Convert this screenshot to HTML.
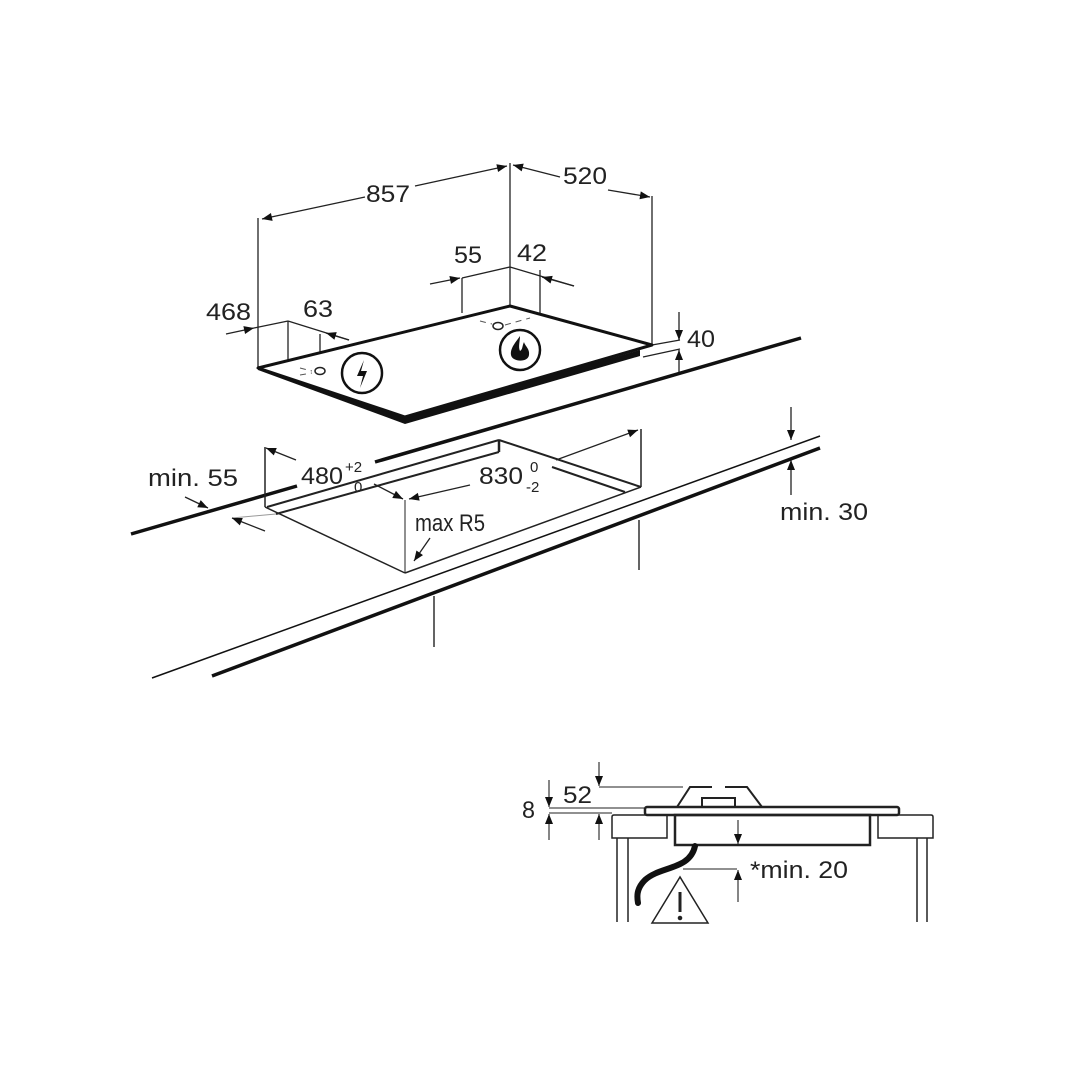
<!DOCTYPE html>
<html><head><meta charset="utf-8"><style>
html,body{margin:0;padding:0;background:#fff;}
svg{display:block;}
text{font-family:"Liberation Sans",Arial,sans-serif;font-size:24px;fill:#222;}
</style></head><body>
<svg width="1080" height="1080" viewBox="0 0 1080 1080" xmlns="http://www.w3.org/2000/svg">
<defs>
<marker id="a" viewBox="0 0 10 10" refX="10" refY="5" markerWidth="14" markerHeight="10" markerUnits="userSpaceOnUse" orient="auto"><path d="M0,1 L10,5 L0,9 z" fill="#111"/></marker>
</defs>
<g stroke="#222" fill="none" stroke-width="1.3">
<line x1="258" y1="218" x2="258" y2="368"/>
<line x1="510" y1="163" x2="510" y2="306"/>
<line x1="652" y1="196" x2="652" y2="345"/>
<line x1="462" y1="278" x2="462" y2="313"/>
<line x1="540" y1="270" x2="540" y2="313"/>
<line x1="288" y1="321" x2="288" y2="360"/>
<line x1="320" y1="334" x2="320" y2="366"/>
<line x1="365" y1="197" x2="262" y2="219" marker-end="url(#a)"/>
<line x1="415" y1="186" x2="507" y2="166" marker-end="url(#a)"/>
<line x1="560" y1="177" x2="513" y2="165" marker-end="url(#a)"/>
<line x1="608" y1="190" x2="650" y2="197" marker-end="url(#a)"/>
<line x1="430" y1="284" x2="460" y2="278" marker-end="url(#a)"/>
<line x1="462" y1="278" x2="510" y2="267"/>
<line x1="510" y1="267" x2="574" y2="286"/>
<line x1="574" y1="286" x2="542" y2="277" marker-end="url(#a)"/>
<line x1="226" y1="334" x2="254" y2="328" marker-end="url(#a)"/>
<line x1="254" y1="328" x2="288" y2="321"/>
<line x1="288" y1="321" x2="349" y2="340"/>
<line x1="349" y1="340" x2="326" y2="333" marker-end="url(#a)"/>
<line x1="652" y1="345" x2="680" y2="340"/>
<line x1="643" y1="357" x2="680" y2="349"/>
<line x1="679" y1="312" x2="679" y2="340" marker-end="url(#a)"/>
<line x1="679" y1="372" x2="679" y2="350" marker-end="url(#a)"/>
</g>
<path d="M258,370 L405,424 L640,356 L640,350 L405,417 L258,366 Z" fill="#111"/>
<path d="M258,368 L510,306 L652,345 L405,417 Z" fill="#fff" stroke="#111" stroke-width="3" stroke-linejoin="round"/>
<g stroke="#555" stroke-width="1" stroke-dasharray="6,5">
<line x1="300" y1="368" x2="312" y2="371"/><line x1="300" y1="375" x2="312" y2="373"/>
<line x1="480" y1="321" x2="492" y2="324"/><line x1="505" y1="325" x2="530" y2="318"/>
</g>
<ellipse cx="320" cy="371" rx="5" ry="3.5" fill="#fff" stroke="#222" stroke-width="1.5"/>
<ellipse cx="498" cy="326" rx="5" ry="3.5" fill="#fff" stroke="#222" stroke-width="1.5"/>
<circle cx="362" cy="373" r="20" fill="#fff" stroke="#111" stroke-width="2.5"/>
<path d="M364,360 L357,376 L363,376 L360,388 L367,371 L361,371 Z" fill="#111"/>
<circle cx="520" cy="350" r="20" fill="#fff" stroke="#111" stroke-width="2.5"/>
<path d="M520,336 C516,342 510,348 511,355 C512,362 528,363 529,355 C530,349 525,346 524,342 C522,346 523,349 520,351 C518,347 520,341 520,336 Z" fill="#111"/>
<g stroke="#111" fill="none">
<line x1="131" y1="534" x2="297" y2="486" stroke-width="3.5"/>
<line x1="375" y1="462" x2="801" y2="338" stroke-width="3.5"/>
<line x1="152" y1="678" x2="820" y2="436" stroke-width="1.5"/>
<line x1="212" y1="676" x2="820" y2="448" stroke-width="3.5"/>
<line x1="434" y1="596" x2="434" y2="647" stroke-width="1.3"/>
<line x1="639" y1="520" x2="639" y2="570" stroke-width="1.3"/>
</g>
<g stroke="#222" fill="none" stroke-width="1.5">
<line x1="265" y1="447" x2="265" y2="507"/>
<line x1="641" y1="429" x2="641" y2="487"/>
<line x1="265" y1="507" x2="405" y2="573"/>
<line x1="405" y1="573" x2="641" y2="487"/>
<line x1="405" y1="500" x2="405" y2="573" stroke-width="1"/>
<line x1="267" y1="507" x2="499" y2="440" stroke-width="2"/>
<line x1="276" y1="514" x2="499" y2="452" stroke-width="2"/>
<line x1="499" y1="440" x2="641" y2="487" stroke-width="2"/>
<line x1="552" y1="467" x2="625" y2="492" stroke-width="2"/>
<line x1="499" y1="440" x2="499" y2="452" stroke-width="2.5"/>
<line x1="232" y1="518" x2="276" y2="514" stroke="#999" stroke-width="1"/>
</g>
<g stroke="#222" stroke-width="1.3" fill="none">
<line x1="296" y1="460" x2="266" y2="448" marker-end="url(#a)"/>
<line x1="374" y1="484" x2="403" y2="499" marker-end="url(#a)"/>
<line x1="470" y1="485" x2="409" y2="499" marker-end="url(#a)"/>
<line x1="556" y1="460" x2="638" y2="430" marker-end="url(#a)"/>
<line x1="185" y1="497" x2="208" y2="508" marker-end="url(#a)"/>
<line x1="265" y1="531" x2="232" y2="518" marker-end="url(#a)"/>
<line x1="430" y1="538" x2="414" y2="561" marker-end="url(#a)"/>
<line x1="791" y1="407" x2="791" y2="440" marker-end="url(#a)"/>
<line x1="791" y1="495" x2="791" y2="460" marker-end="url(#a)"/>
</g>
<g stroke="#222" fill="none">
<rect x="645" y="807" width="254" height="8" rx="2" stroke-width="2.5" fill="#fff"/>
<path d="M677,807 L690,787 L712,787 M725,787 L747,787 L762,807" stroke-width="2"/>
<rect x="702" y="798" width="33" height="9" stroke-width="2"/>
<rect x="675" y="815" width="195" height="30" stroke-width="2.5"/>
<path d="M667,815 L614,815 Q612,815 612,817 L612,838 L667,838 Z" stroke-width="1.5"/>
<path d="M878,815 L931,815 Q933,815 933,817 L933,838 L878,838 Z" stroke-width="1.5"/>
<line x1="617" y1="838" x2="617" y2="922" stroke-width="1.5"/>
<line x1="628" y1="838" x2="628" y2="922" stroke-width="1.5"/>
<line x1="917" y1="838" x2="917" y2="922" stroke-width="1.5"/>
<line x1="927" y1="838" x2="927" y2="922" stroke-width="1.5"/>
<path d="M695,846 C690,870 660,866 645,880 C636,889 637,897 638,903" stroke="#111" stroke-width="6" stroke-linecap="round"/>
<path d="M680,877 L652,923 L708,923 Z" stroke-width="1.5" fill="#fff"/>
<line x1="680" y1="892" x2="680" y2="912" stroke-width="3"/>
<circle cx="680" cy="918" r="1.8" fill="#222"/>
<g stroke-width="1.1">
<line x1="599" y1="787" x2="683" y2="787"/>
<line x1="549" y1="808" x2="645" y2="808"/>
<line x1="549" y1="813" x2="612" y2="813"/>
<line x1="683" y1="869" x2="737" y2="869"/>
<line x1="599" y1="762" x2="599" y2="786" marker-end="url(#a)"/>
<line x1="599" y1="840" x2="599" y2="814" marker-end="url(#a)"/>
<line x1="549" y1="780" x2="549" y2="807" marker-end="url(#a)"/>
<line x1="549" y1="840" x2="549" y2="814" marker-end="url(#a)"/>
<line x1="738" y1="820" x2="738" y2="844" marker-end="url(#a)"/>
<line x1="738" y1="902" x2="738" y2="870" marker-end="url(#a)"/>
</g>
</g>
<text x="366" y="202" textLength="44" lengthAdjust="spacingAndGlyphs">857</text>
<text x="563" y="184" textLength="44" lengthAdjust="spacingAndGlyphs">520</text>
<text x="454" y="263" textLength="28" lengthAdjust="spacingAndGlyphs">55</text>
<text x="517" y="261" textLength="30" lengthAdjust="spacingAndGlyphs">42</text>
<text x="206" y="320" textLength="45" lengthAdjust="spacingAndGlyphs">468</text>
<text x="303" y="317" textLength="30" lengthAdjust="spacingAndGlyphs">63</text>
<text x="687" y="347" textLength="28" lengthAdjust="spacingAndGlyphs">40</text>
<text x="148" y="486" textLength="90" lengthAdjust="spacingAndGlyphs">min. 55</text>
<text x="301" y="484" textLength="42" lengthAdjust="spacingAndGlyphs">480</text>
<text x="345" y="472" style="font-size:15px">+2</text>
<text x="354" y="492" style="font-size:15px">0</text>
<text x="479" y="484" textLength="44" lengthAdjust="spacingAndGlyphs">830</text>
<text x="530" y="472" style="font-size:15px">0</text>
<text x="526" y="492" style="font-size:15px">-2</text>
<text x="415" y="531" textLength="70" lengthAdjust="spacingAndGlyphs">max R5</text>
<text x="780" y="520" textLength="88" lengthAdjust="spacingAndGlyphs">min. 30</text>
<text x="563" y="803" textLength="29" lengthAdjust="spacingAndGlyphs">52</text>
<text x="522" y="818" textLength="13" lengthAdjust="spacingAndGlyphs">8</text>
<text x="750" y="878" textLength="98" lengthAdjust="spacingAndGlyphs">*min. 20</text>
</svg>
</body></html>
